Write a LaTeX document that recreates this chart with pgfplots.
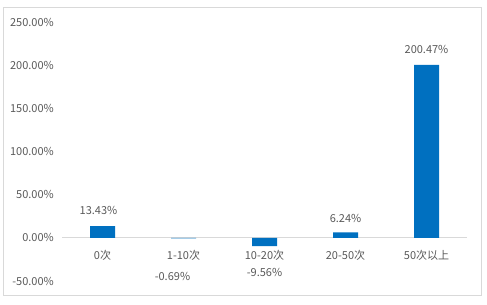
\documentclass[border=0pt]{standalone}
\usepackage{fontspec}
\setmainfont{Noto Sans CJK SC}
\usepackage{pgfplots}
\pgfplotsset{compat=1.18}
\definecolor{barblue}{HTML}{0070C0}
\definecolor{txt}{HTML}{595959}
\definecolor{framec}{HTML}{D9D9D9}
\begin{document}
\begin{tikzpicture}
\useasboundingbox (0,0) rectangle (487bp,305bp);
\draw[framec, line width=0.75bp] (3bp,10bp) rectangle (481.5bp,298bp);
\begin{axis}[
  at={(62bp,24bp)}, anchor=south west,
  scale only axis, width=405bp, height=259bp,
  xmin=-0.5, xmax=4.5, ymin=-50, ymax=250,
  axis line style={draw=none}, major tick style={draw=none},
  xtick={0,1,2,3,4},
  xticklabels={0次,1-10次,10-20次,20-50次,50次以上},
  ytick={-50,0,50,100,150,200,250},
  yticklabels={-50.00\%,0.00\%,50.00\%,100.00\%,150.00\%,200.00\%,250.00\%},
  every tick label/.append style={font=\fontsize{11bp}{13bp}\selectfont, text=txt},
  yticklabel style={anchor=east, inner sep=0pt, xshift=-8bp},
  xticklabel style={anchor=center, inner sep=0pt, yshift=30bp},
  extra y ticks={0}, extra y tick labels={},
  extra y tick style={grid=major, major grid style={framec, line width=0.75bp}},
  ybar, bar width=25bp, bar shift=0pt,
  clip=false,
]
\addplot[fill=barblue, draw=none] coordinates {(0,13.43) (1,-0.69) (2,-9.56) (3,6.24) (4,200.47)};
\begin{scope}[every node/.style={font=\fontsize{11bp}{13bp}\selectfont, text=txt}]
\node at (axis cs:-0.05,32) {13.43\%};
\node at (axis cs:0.864,-44.8) {-0.69\%};
\node at (axis cs:2,-40.6) {-9.56\%};
\node at (axis cs:3,22.7) {6.24\%};
\node at (axis cs:4,218) {200.47\%};
\end{scope}
\end{axis}
\end{tikzpicture}
\end{document}
